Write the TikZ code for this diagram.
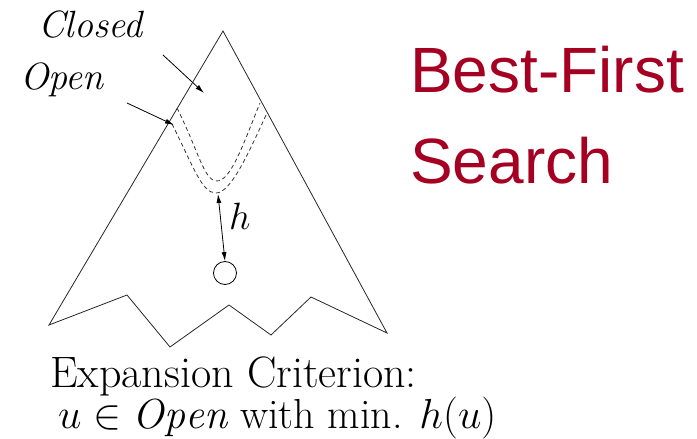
\RequirePackage{fix-cm}
\documentclass[tikz,border=0pt]{standalone}
\usepackage{fontspec}
\newfontfamily\titlefont{Liberation Sans}
\usepackage{xcolor}
\definecolor{titleRed}{HTML}{A50021}
\usetikzlibrary{arrows.meta, positioning, calc}
\tikzset{
    outline/.style={draw, line width=0.8pt, black!85},
    frontier/.style={draw, line width=0.8pt, dashed, dash pattern=on 4pt off 3pt, black!80},
    pointer/.style={->, >={Latex[length=9pt, width=5pt]}, line width=0.8pt},
    hlink/.style={<->, >={Latex[length=9pt, width=5pt]}, line width=0.8pt},
    goal/.style={circle, draw, line width=0.8pt, minimum size=23pt, inner sep=0pt},
    lbl/.style={inner sep=0pt, anchor=base west},
}
\begin{document}
\begin{tikzpicture}[x=1pt, y=-1pt]
\useasboundingbox (0,0) rectangle (697,439);

% --- search space ---
\coordinate (apex) at (223,31);
\coordinate (bl) at (49,325);
\coordinate (z1) at (127,295);
\coordinate (z2) at (170,347);
\coordinate (z3) at (229,305);
\coordinate (z4) at (271,335);
\coordinate (z5) at (311,297);
\coordinate (br) at (387,333);
\draw[outline] (apex) -- (bl) -- (z1) -- (z2) -- (z3) -- (z4) -- (z5) -- (br) -- cycle;

% --- closed / open boundaries ---
\coordinate (cl-a) at (177,108);
\coordinate (cl-b) at (217,181);
\coordinate (cl-c) at (260,103);
\draw[frontier] (cl-a) .. controls (199,152) and (204,181) .. (cl-b)
    .. controls (231,181) and (244,142) .. (cl-c);
\coordinate (op-a) at (172,124);
\coordinate (op-b) at (216,193);
\coordinate (op-c) at (267,113);
\draw[frontier] (op-a) .. controls (194,168) and (202,193) .. (op-b)
    .. controls (231,193) and (249,152) .. (op-c);

% --- labels with arrows ---
\node[lbl, font=\fontsize{38}{40}\selectfont\itshape] (closed) at (38,37) {Closed};
\node[lbl, font=\fontsize{38}{40}\selectfont\itshape] (open) at (20,89) {Open};
\coordinate (closed-tail) at (163,55);
\coordinate (closed-tip) at (204,93);
\coordinate (open-tail) at (127,103);
\coordinate (open-tip) at (174,125);
\draw[pointer] (closed-tail) -- (closed-tip);
\draw[pointer] (open-tail) -- (open-tip);

% --- goal and heuristic ---
\node[goal] (u) at (225,273) {};
\coordinate (h-top) at (218,194);
\draw[hlink] (h-top) -- (u.north);
\node[lbl, font=\fontsize{38}{40}\selectfont] (h) at (229,229) {$h$};

% --- caption ---
\node[lbl, font=\fontsize{44}{48}\selectfont] (crit) at (50,387) {Expansion Criterion:};
\node[lbl, font=\fontsize{42}{46}\selectfont] (rule) at (58,428)
    {$u\in\mathit{Open}$ with min. $h(u)$};

% --- title ---
\node[lbl, font=\titlefont\fontsize{64}{70}\selectfont, text=titleRed] (t1) at (410,92) {Best-First};
\node[lbl, font=\titlefont\fontsize{64}{70}\selectfont, text=titleRed] (t2) at (410,183) {Search};
\end{tikzpicture}
\end{document}
